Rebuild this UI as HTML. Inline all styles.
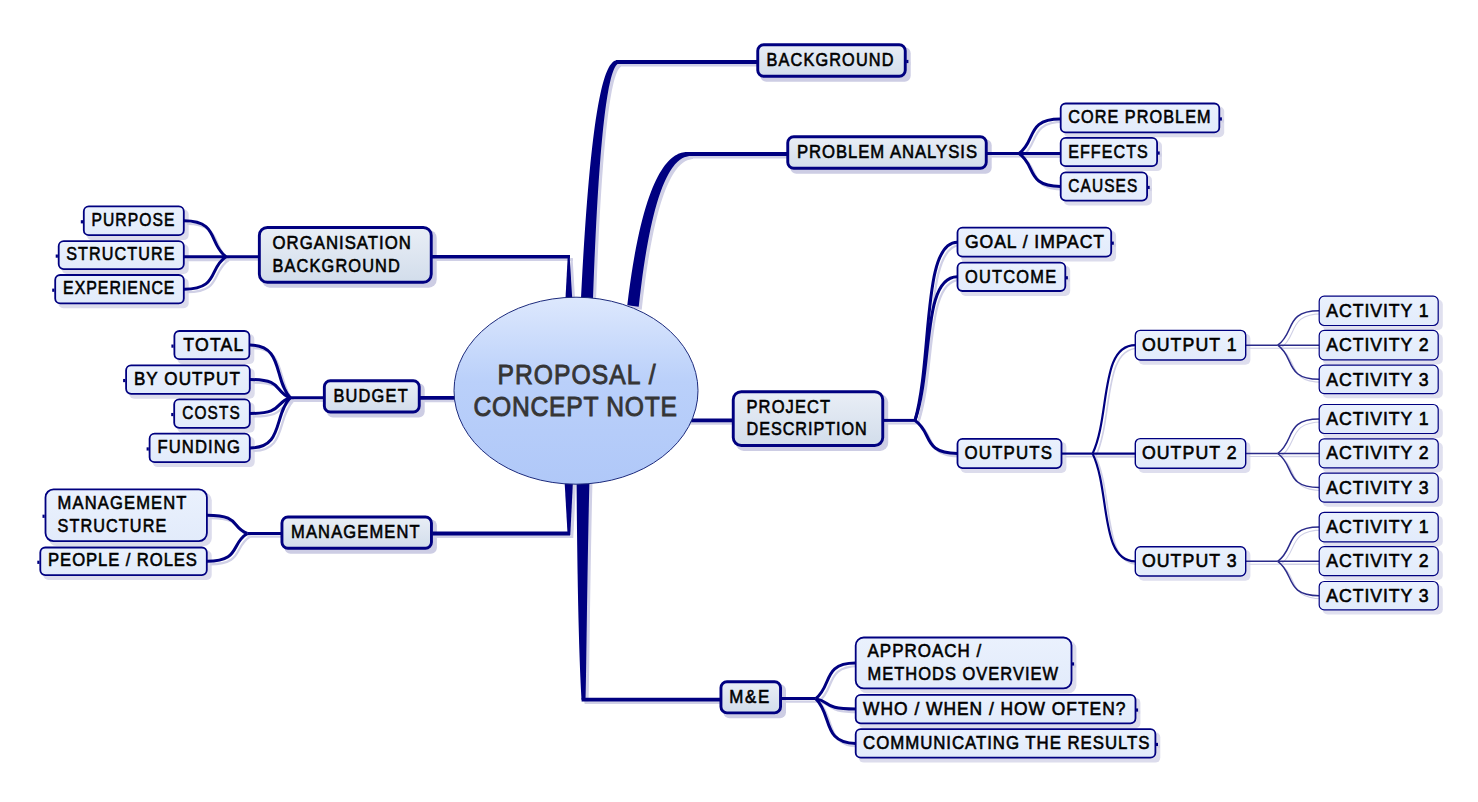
<!DOCTYPE html>
<html><head><meta charset="utf-8"><style>
html,body{margin:0;padding:0;background:#fff;width:1478px;height:802px;overflow:hidden;}
svg{display:block;font-family:"Liberation Sans", sans-serif;}
</style></head><body>
<svg width="1478" height="802" viewBox="0 0 1478 802">
<defs>
<linearGradient id="g1" x1="0" y1="0" x2="0" y2="1"><stop offset="0" stop-color="#e9eef6"/><stop offset="1" stop-color="#d2ddeb"/></linearGradient>
<linearGradient id="g2" x1="0" y1="0" x2="0" y2="1"><stop offset="0" stop-color="#eaf1fd"/><stop offset="1" stop-color="#e2ebfb"/></linearGradient>
<linearGradient id="ge" x1="0" y1="0" x2="0" y2="1"><stop offset="0" stop-color="#dde8fd"/><stop offset="0.45" stop-color="#bad0fa"/><stop offset="1" stop-color="#b0c8f8"/></linearGradient>
</defs>
<rect width="1478" height="802" fill="#ffffff"/>
<rect x="760.30" y="47.30" width="150.40" height="34.40" rx="6" fill="#cdcde4"/>
<rect x="790.30" y="139.30" width="201.40" height="34.40" rx="6" fill="#cdcde4"/>
<rect x="261.90" y="230.00" width="174.80" height="57.70" rx="8" fill="#cdcde4"/>
<rect x="326.90" y="383.30" width="97.80" height="34.20" rx="6" fill="#cdcde4"/>
<rect x="284.50" y="519.60" width="152.40" height="34.10" rx="6" fill="#cdcde4"/>
<rect x="735.80" y="394.30" width="152.40" height="56.60" rx="8" fill="#cdcde4"/>
<rect x="723.50" y="684.30" width="62.50" height="34.00" rx="6" fill="#cdcde4"/>
<rect x="86.90" y="209.50" width="101.80" height="30.60" rx="5" fill="#dcdcec"/>
<rect x="61.80" y="244.20" width="126.90" height="29.80" rx="5" fill="#dcdcec"/>
<rect x="58.30" y="278.10" width="130.40" height="30.20" rx="5" fill="#dcdcec"/>
<rect x="177.50" y="334.10" width="76.80" height="30.00" rx="5" fill="#dcdcec"/>
<rect x="129.20" y="368.40" width="125.50" height="30.30" rx="5" fill="#dcdcec"/>
<rect x="177.30" y="402.40" width="77.40" height="30.30" rx="5" fill="#dcdcec"/>
<rect x="152.70" y="436.80" width="102.00" height="30.30" rx="5" fill="#dcdcec"/>
<rect x="48.60" y="492.50" width="163.20" height="53.50" rx="8" fill="#dcdcec"/>
<rect x="43.40" y="550.60" width="168.30" height="29.40" rx="5" fill="#dcdcec"/>
<rect x="1063.80" y="106.60" width="160.40" height="30.70" rx="5" fill="#dcdcec"/>
<rect x="1063.80" y="141.00" width="98.20" height="30.10" rx="5" fill="#dcdcec"/>
<rect x="1063.80" y="175.40" width="88.20" height="30.10" rx="5" fill="#dcdcec"/>
<rect x="960.60" y="230.70" width="155.50" height="30.90" rx="5" fill="#dcdcec"/>
<rect x="960.60" y="265.70" width="109.60" height="30.20" rx="5" fill="#dcdcec"/>
<rect x="960.60" y="441.90" width="105.80" height="31.10" rx="5" fill="#dcdcec"/>
<rect x="858.80" y="640.60" width="217.60" height="52.70" rx="8" fill="#dcdcec"/>
<rect x="858.80" y="697.90" width="281.60" height="30.30" rx="5" fill="#dcdcec"/>
<rect x="858.80" y="732.30" width="301.50" height="30.30" rx="5" fill="#dcdcec"/>
<rect x="1138.60" y="333.70" width="111.80" height="31.00" rx="5" fill="#dedeee"/>
<rect x="1138.60" y="441.90" width="111.80" height="31.10" rx="5" fill="#dedeee"/>
<rect x="1138.60" y="550.00" width="111.80" height="30.70" rx="5" fill="#dedeee"/>
<rect x="1322.60" y="299.55" width="120.20" height="30.55" rx="5" fill="#e0e0ef"/>
<rect x="1322.60" y="333.80" width="120.20" height="30.60" rx="5" fill="#e0e0ef"/>
<rect x="1322.60" y="368.50" width="120.20" height="29.70" rx="5" fill="#e0e0ef"/>
<rect x="1322.60" y="407.90" width="120.20" height="30.20" rx="5" fill="#e0e0ef"/>
<rect x="1322.60" y="442.20" width="120.20" height="30.20" rx="5" fill="#e0e0ef"/>
<rect x="1322.60" y="476.50" width="120.20" height="30.20" rx="5" fill="#e0e0ef"/>
<rect x="1322.60" y="515.70" width="120.20" height="30.80" rx="5" fill="#e0e0ef"/>
<rect x="1322.60" y="550.00" width="120.20" height="30.20" rx="5" fill="#e0e0ef"/>
<rect x="1322.60" y="584.90" width="120.20" height="29.60" rx="5" fill="#e0e0ef"/>
<path d="M595.99,301.26 L596.50,287.43 L597.02,274.12 L597.55,261.31 L598.10,249.01 L598.66,237.20 L599.23,225.87 L599.81,215.01 L600.41,204.62 L601.01,194.69 L601.63,185.20 L602.26,176.15 L602.90,167.54 L603.54,159.34 L604.20,151.56 L604.86,144.19 L605.53,137.21 L606.21,130.62 L606.89,124.41 L607.58,118.57 L608.28,113.09 L608.98,107.97 L609.69,103.19 L610.40,98.75 L611.11,94.65 L611.82,90.86 L612.53,87.38 L613.25,84.22 L613.96,81.35 L614.67,78.76 L615.38,76.47 L616.08,74.45 L616.76,72.69 L617.43,71.20 L618.08,69.96 L618.69,68.97 L619.26,68.21 L619.77,67.66 L620.21,67.29 L620.61,67.05 L621.00,66.90 L621.00,63.10 L619.74,63.14 L618.47,63.45 L617.25,64.04 L616.09,64.85 L614.98,65.89 L613.92,67.14 L612.89,68.61 L611.88,70.30 L610.88,72.23 L609.90,74.41 L608.93,76.84 L607.97,79.54 L607.01,82.52 L606.06,85.78 L605.11,89.34 L604.17,93.21 L603.24,97.39 L602.31,101.89 L601.39,106.73 L600.47,111.91 L599.56,117.44 L598.65,123.33 L597.76,129.58 L596.87,136.22 L595.99,143.23 L595.11,150.65 L594.25,158.47 L593.39,166.69 L592.55,175.34 L591.71,184.42 L590.89,193.94 L590.07,203.91 L589.27,214.33 L588.48,225.21 L587.70,236.57 L586.93,248.40 L586.18,260.73 L585.44,273.56 L584.72,286.89 L584.01,300.74Z" fill="#d0d0e6"/>
<line x1="619.00" y1="65.00" x2="760.00" y2="65.00" stroke="#d0d0e6" stroke-width="2.85"/>
<path d="M641.71,309.65 L642.92,299.01 L644.16,288.88 L645.42,279.25 L646.72,270.11 L648.05,261.45 L649.41,253.26 L650.79,245.51 L652.19,238.20 L653.61,231.32 L655.06,224.85 L656.51,218.79 L657.98,213.11 L659.45,207.81 L660.93,202.87 L662.42,198.29 L663.90,194.04 L665.38,190.12 L666.85,186.51 L668.32,183.21 L669.77,180.19 L671.21,177.44 L672.62,174.96 L674.02,172.72 L675.38,170.72 L676.72,168.94 L678.03,167.36 L679.31,165.97 L680.55,164.76 L681.76,163.70 L682.94,162.79 L684.08,162.02 L685.19,161.35 L686.26,160.80 L687.31,160.33 L688.33,159.95 L689.33,159.64 L690.29,159.39 L691.23,159.19 L692.13,159.03 L693.00,158.90 L693.00,155.10 L692.01,155.00 L690.93,154.94 L689.78,154.93 L688.54,154.99 L687.23,155.14 L685.85,155.38 L684.41,155.74 L682.91,156.23 L681.36,156.86 L679.77,157.64 L678.14,158.59 L676.47,159.72 L674.79,161.03 L673.08,162.54 L671.36,164.26 L669.62,166.19 L667.88,168.35 L666.12,170.75 L664.37,173.40 L662.60,176.31 L660.84,179.49 L659.08,182.96 L657.32,186.73 L655.57,190.81 L653.83,195.20 L652.09,199.94 L650.37,205.01 L648.66,210.45 L646.97,216.26 L645.30,222.46 L643.66,229.05 L642.03,236.05 L640.44,243.48 L638.87,251.34 L637.34,259.65 L635.84,268.42 L634.38,277.66 L632.97,287.39 L631.60,297.62 L630.29,308.35Z" fill="#d0d0e6"/>
<line x1="691.00" y1="157.00" x2="790.00" y2="157.00" stroke="#d0d0e6" stroke-width="2.85"/>
<line x1="435.00" y1="259.70" x2="573.00" y2="259.70" stroke="#d0d0e6" stroke-width="2.70"/>
<path d="M570.8,258.0 L572.6,258.0 L575.3,303.0 L568.4,303.0 Z" fill="#d0d0e6"/>
<line x1="423.00" y1="400.80" x2="473.00" y2="400.80" stroke="#d0d0e6" stroke-width="2.85"/>
<line x1="683.00" y1="423.40" x2="735.50" y2="423.40" stroke="#d0d0e6" stroke-width="2.85"/>
<line x1="435.20" y1="536.50" x2="573.00" y2="536.50" stroke="#d0d0e6" stroke-width="2.85"/>
<path d="M567.5,483.0 L576.0,483.0 L573.3,538.0 L570.6,538.0 Z" fill="#d0d0e6"/>
<path d="M579.50,480.95 L579.59,490.00 L579.67,498.87 L579.75,507.54 L579.82,516.02 L579.91,524.31 L579.99,532.40 L580.08,540.31 L580.18,548.04 L580.28,555.57 L580.38,562.92 L580.48,570.09 L580.60,577.07 L580.71,583.87 L580.83,590.49 L580.95,596.93 L581.07,603.19 L581.20,609.28 L581.33,615.18 L581.46,620.91 L581.60,626.47 L581.74,631.85 L581.88,637.07 L582.02,642.10 L582.16,646.97 L582.31,651.67 L582.45,656.21 L582.60,660.57 L582.75,664.77 L582.90,668.81 L583.04,672.68 L583.19,676.39 L583.34,679.94 L583.49,683.32 L583.64,686.55 L583.78,689.62 L583.93,692.53 L584.08,695.29 L584.22,697.89 L584.36,700.34 L584.50,702.63 L588.50,702.57 L588.56,700.27 L588.62,697.82 L588.68,695.22 L588.74,692.46 L588.80,689.55 L588.86,686.48 L588.92,683.25 L588.98,679.86 L589.04,676.32 L589.10,672.61 L589.16,668.74 L589.22,664.70 L589.28,660.51 L589.34,656.14 L589.41,651.61 L589.48,646.92 L589.55,642.05 L589.62,637.01 L589.70,631.81 L589.78,626.43 L589.86,620.88 L589.94,615.15 L590.03,609.25 L590.13,603.17 L590.23,596.92 L590.33,590.48 L590.44,583.87 L590.55,577.07 L590.67,570.10 L590.79,562.94 L590.92,555.60 L591.06,548.07 L591.21,540.35 L591.36,532.45 L591.52,524.36 L591.69,516.08 L591.87,507.62 L592.06,498.95 L592.27,490.10 L592.50,481.05Z" fill="#d0d0e6"/>
<line x1="584.60" y1="702.60" x2="723.20" y2="702.60" stroke="#d0d0e6" stroke-width="2.85"/>
<line x1="261.60" y1="259.70" x2="229.00" y2="259.70" stroke="#d0d0e6" stroke-width="2.25"/>
<path d="M187.00,223.80 C222.28,223.80 211.36,247.13 229.00,259.70" fill="none" stroke="#d0d0e6" stroke-width="2.25"/>
<line x1="187.00" y1="259.70" x2="229.00" y2="259.70" stroke="#d0d0e6" stroke-width="3.00"/>
<path d="M187.00,292.20 C222.28,292.20 211.36,271.07 229.00,259.70" fill="none" stroke="#d0d0e6" stroke-width="2.25"/>
<line x1="326.60" y1="400.80" x2="293.30" y2="400.80" stroke="#d0d0e6" stroke-width="2.25"/>
<path d="M253.00,348.10 C286.85,348.10 276.37,382.36 293.30,400.80" fill="none" stroke="#d0d0e6" stroke-width="2.25"/>
<path d="M253.00,382.50 C286.85,382.50 276.37,394.39 293.30,400.80" fill="none" stroke="#d0d0e6" stroke-width="2.25"/>
<path d="M253.00,416.50 C286.85,416.50 276.37,406.30 293.30,400.80" fill="none" stroke="#d0d0e6" stroke-width="2.25"/>
<path d="M253.00,451.00 C286.85,451.00 276.37,418.37 293.30,400.80" fill="none" stroke="#d0d0e6" stroke-width="2.25"/>
<line x1="284.20" y1="536.50" x2="250.40" y2="536.50" stroke="#d0d0e6" stroke-width="2.25"/>
<path d="M210.00,518.20 C243.94,518.20 233.43,530.10 250.40,536.50" fill="none" stroke="#d0d0e6" stroke-width="2.25"/>
<path d="M210.00,564.30 C243.94,564.30 233.43,546.23 250.40,536.50" fill="none" stroke="#d0d0e6" stroke-width="2.25"/>
<line x1="990.00" y1="156.50" x2="1022.00" y2="156.50" stroke="#d0d0e6" stroke-width="2.25"/>
<path d="M1063.50,121.90 C1028.64,121.90 1039.43,144.39 1022.00,156.50" fill="none" stroke="#d0d0e6" stroke-width="2.25"/>
<line x1="1063.50" y1="156.50" x2="1022.00" y2="156.50" stroke="#d0d0e6" stroke-width="3.00"/>
<path d="M1063.50,189.40 C1028.64,189.40 1039.43,168.01 1022.00,156.50" fill="none" stroke="#d0d0e6" stroke-width="2.25"/>
<line x1="886.50" y1="423.40" x2="918.00" y2="423.40" stroke="#d0d0e6" stroke-width="2.25"/>
<path d="M960.30,245.20 C924.77,245.20 935.77,361.03 918.00,423.40" fill="none" stroke="#d0d0e6" stroke-width="2.25"/>
<path d="M960.30,279.80 C924.77,279.80 935.77,373.14 918.00,423.40" fill="none" stroke="#d0d0e6" stroke-width="2.25"/>
<path d="M960.30,456.40 C924.77,456.40 935.77,434.95 918.00,423.40" fill="none" stroke="#d0d0e6" stroke-width="2.25"/>
<line x1="784.30" y1="701.60" x2="818.70" y2="701.60" stroke="#d0d0e6" stroke-width="2.25"/>
<path d="M858.50,666.00 C825.07,666.00 835.42,689.14 818.70,701.60" fill="none" stroke="#d0d0e6" stroke-width="2.25"/>
<path d="M858.50,712.00 C825.07,712.00 835.42,705.24 818.70,701.60" fill="none" stroke="#d0d0e6" stroke-width="2.25"/>
<path d="M858.50,746.40 C825.07,746.40 835.42,717.28 818.70,701.60" fill="none" stroke="#d0d0e6" stroke-width="2.25"/>
<line x1="1064.70" y1="456.60" x2="1095.60" y2="456.60" stroke="#d0d0e6" stroke-width="1.65"/>
<path d="M1138.30,348.20 C1102.43,348.20 1113.53,418.66 1095.60,456.60" fill="none" stroke="#d0d0e6" stroke-width="1.65"/>
<line x1="1138.30" y1="456.60" x2="1095.60" y2="456.60" stroke="#d0d0e6" stroke-width="2.20"/>
<path d="M1138.30,564.30 C1102.43,564.30 1113.53,494.30 1095.60,456.60" fill="none" stroke="#d0d0e6" stroke-width="1.65"/>
<line x1="1248.70" y1="348.20" x2="1280.70" y2="348.20" stroke="#d0d0e6" stroke-width="1.12"/>
<path d="M1322.30,313.82 C1287.36,313.82 1298.17,336.17 1280.70,348.20" fill="none" stroke="#d0d0e6" stroke-width="1.12"/>
<line x1="1322.30" y1="348.20" x2="1280.70" y2="348.20" stroke="#d0d0e6" stroke-width="1.50"/>
<path d="M1322.30,382.35 C1287.36,382.35 1298.17,360.15 1280.70,348.20" fill="none" stroke="#d0d0e6" stroke-width="1.12"/>
<line x1="1248.70" y1="456.50" x2="1280.70" y2="456.50" stroke="#d0d0e6" stroke-width="1.12"/>
<path d="M1322.30,422.00 C1287.36,422.00 1298.17,444.43 1280.70,456.50" fill="none" stroke="#d0d0e6" stroke-width="1.12"/>
<line x1="1322.30" y1="456.50" x2="1280.70" y2="456.50" stroke="#d0d0e6" stroke-width="1.50"/>
<path d="M1322.30,490.60 C1287.36,490.60 1298.17,468.44 1280.70,456.50" fill="none" stroke="#d0d0e6" stroke-width="1.12"/>
<line x1="1248.70" y1="564.30" x2="1280.70" y2="564.30" stroke="#d0d0e6" stroke-width="1.12"/>
<path d="M1322.30,530.10 C1287.36,530.10 1298.17,552.33 1280.70,564.30" fill="none" stroke="#d0d0e6" stroke-width="1.12"/>
<line x1="1322.30" y1="564.30" x2="1280.70" y2="564.30" stroke="#d0d0e6" stroke-width="1.50"/>
<path d="M1322.30,598.70 C1287.36,598.70 1298.17,576.34 1280.70,564.30" fill="none" stroke="#d0d0e6" stroke-width="1.12"/>
<path d="M592.99,298.26 L593.50,284.43 L594.02,271.12 L594.55,258.31 L595.10,246.01 L595.66,234.20 L596.23,222.87 L596.81,212.01 L597.41,201.62 L598.01,191.69 L598.63,182.20 L599.26,173.15 L599.90,164.54 L600.54,156.34 L601.20,148.56 L601.86,141.19 L602.53,134.21 L603.21,127.62 L603.89,121.41 L604.58,115.57 L605.28,110.09 L605.98,104.97 L606.69,100.19 L607.40,95.75 L608.11,91.65 L608.82,87.86 L609.53,84.38 L610.25,81.22 L610.96,78.35 L611.67,75.76 L612.38,73.47 L613.08,71.45 L613.76,69.69 L614.43,68.20 L615.08,66.96 L615.69,65.97 L616.26,65.21 L616.77,64.66 L617.21,64.29 L617.61,64.05 L618.00,63.90 L618.00,60.10 L616.74,60.14 L615.47,60.45 L614.25,61.04 L613.09,61.85 L611.98,62.89 L610.92,64.14 L609.89,65.61 L608.88,67.30 L607.88,69.23 L606.90,71.41 L605.93,73.84 L604.97,76.54 L604.01,79.52 L603.06,82.78 L602.11,86.34 L601.17,90.21 L600.24,94.39 L599.31,98.89 L598.39,103.73 L597.47,108.91 L596.56,114.44 L595.65,120.33 L594.76,126.58 L593.87,133.22 L592.99,140.23 L592.11,147.65 L591.25,155.47 L590.39,163.69 L589.55,172.34 L588.71,181.42 L587.89,190.94 L587.07,200.91 L586.27,211.33 L585.48,222.21 L584.70,233.57 L583.93,245.40 L583.18,257.73 L582.44,270.56 L581.72,283.89 L581.01,297.74Z" fill="#000080"/>
<line x1="616.00" y1="62.00" x2="757.00" y2="62.00" stroke="#000080" stroke-width="3.80"/>
<path d="M638.71,306.65 L639.92,296.01 L641.16,285.88 L642.42,276.25 L643.72,267.11 L645.05,258.45 L646.41,250.26 L647.79,242.51 L649.19,235.20 L650.61,228.32 L652.06,221.85 L653.51,215.79 L654.98,210.11 L656.45,204.81 L657.93,199.87 L659.42,195.29 L660.90,191.04 L662.38,187.12 L663.85,183.51 L665.32,180.21 L666.77,177.19 L668.21,174.44 L669.62,171.96 L671.02,169.72 L672.38,167.72 L673.72,165.94 L675.03,164.36 L676.31,162.97 L677.55,161.76 L678.76,160.70 L679.94,159.79 L681.08,159.02 L682.19,158.35 L683.26,157.80 L684.31,157.33 L685.33,156.95 L686.33,156.64 L687.29,156.39 L688.23,156.19 L689.13,156.03 L690.00,155.90 L690.00,152.10 L689.01,152.00 L687.93,151.94 L686.78,151.93 L685.54,151.99 L684.23,152.14 L682.85,152.38 L681.41,152.74 L679.91,153.23 L678.36,153.86 L676.77,154.64 L675.14,155.59 L673.47,156.72 L671.79,158.03 L670.08,159.54 L668.36,161.26 L666.62,163.19 L664.88,165.35 L663.12,167.75 L661.37,170.40 L659.60,173.31 L657.84,176.49 L656.08,179.96 L654.32,183.73 L652.57,187.81 L650.83,192.20 L649.09,196.94 L647.37,202.01 L645.66,207.45 L643.97,213.26 L642.30,219.46 L640.66,226.05 L639.03,233.05 L637.44,240.48 L635.87,248.34 L634.34,256.65 L632.84,265.42 L631.38,274.66 L629.97,284.39 L628.60,294.62 L627.29,305.35Z" fill="#000080"/>
<line x1="688.00" y1="154.00" x2="787.00" y2="154.00" stroke="#000080" stroke-width="3.80"/>
<line x1="432.00" y1="256.70" x2="570.00" y2="256.70" stroke="#000080" stroke-width="3.60"/>
<path d="M567.8,255.0 L569.6,255.0 L572.3,300.0 L565.4,300.0 Z" fill="#000080"/>
<line x1="420.00" y1="397.80" x2="470.00" y2="397.80" stroke="#000080" stroke-width="3.80"/>
<line x1="680.00" y1="420.40" x2="732.50" y2="420.40" stroke="#000080" stroke-width="3.80"/>
<line x1="432.20" y1="533.50" x2="570.00" y2="533.50" stroke="#000080" stroke-width="3.80"/>
<path d="M564.5,480.0 L573.0,480.0 L570.3,535.0 L567.6,535.0 Z" fill="#000080"/>
<path d="M576.50,477.95 L576.59,487.00 L576.67,495.87 L576.75,504.54 L576.82,513.02 L576.91,521.31 L576.99,529.40 L577.08,537.31 L577.18,545.04 L577.28,552.57 L577.38,559.92 L577.48,567.09 L577.60,574.07 L577.71,580.87 L577.83,587.49 L577.95,593.93 L578.07,600.19 L578.20,606.28 L578.33,612.18 L578.46,617.91 L578.60,623.47 L578.74,628.85 L578.88,634.07 L579.02,639.10 L579.16,643.97 L579.31,648.67 L579.45,653.21 L579.60,657.57 L579.75,661.77 L579.90,665.81 L580.04,669.68 L580.19,673.39 L580.34,676.94 L580.49,680.32 L580.64,683.55 L580.78,686.62 L580.93,689.53 L581.08,692.29 L581.22,694.89 L581.36,697.34 L581.50,699.63 L585.50,699.57 L585.56,697.27 L585.62,694.82 L585.68,692.22 L585.74,689.46 L585.80,686.55 L585.86,683.48 L585.92,680.25 L585.98,676.86 L586.04,673.32 L586.10,669.61 L586.16,665.74 L586.22,661.70 L586.28,657.51 L586.34,653.14 L586.41,648.61 L586.48,643.92 L586.55,639.05 L586.62,634.01 L586.70,628.81 L586.78,623.43 L586.86,617.88 L586.94,612.15 L587.03,606.25 L587.13,600.17 L587.23,593.92 L587.33,587.48 L587.44,580.87 L587.55,574.07 L587.67,567.10 L587.79,559.94 L587.92,552.60 L588.06,545.07 L588.21,537.35 L588.36,529.45 L588.52,521.36 L588.69,513.08 L588.87,504.62 L589.06,495.95 L589.27,487.10 L589.50,478.05Z" fill="#000080"/>
<line x1="581.60" y1="699.60" x2="720.20" y2="699.60" stroke="#000080" stroke-width="3.80"/>
<line x1="258.60" y1="256.70" x2="226.00" y2="256.70" stroke="#000080" stroke-width="3.00"/>
<path d="M184.00,220.80 C219.28,220.80 208.36,244.13 226.00,256.70" fill="none" stroke="#000080" stroke-width="3.00"/>
<line x1="184.00" y1="256.70" x2="226.00" y2="256.70" stroke="#000080" stroke-width="3.00"/>
<path d="M184.00,289.20 C219.28,289.20 208.36,268.07 226.00,256.70" fill="none" stroke="#000080" stroke-width="3.00"/>
<line x1="323.60" y1="397.80" x2="290.30" y2="397.80" stroke="#000080" stroke-width="3.00"/>
<path d="M250.00,345.10 C283.85,345.10 273.37,379.36 290.30,397.80" fill="none" stroke="#000080" stroke-width="3.00"/>
<path d="M250.00,379.50 C283.85,379.50 273.37,391.39 290.30,397.80" fill="none" stroke="#000080" stroke-width="3.00"/>
<path d="M250.00,413.50 C283.85,413.50 273.37,403.30 290.30,397.80" fill="none" stroke="#000080" stroke-width="3.00"/>
<path d="M250.00,448.00 C283.85,448.00 273.37,415.37 290.30,397.80" fill="none" stroke="#000080" stroke-width="3.00"/>
<line x1="281.20" y1="533.50" x2="247.40" y2="533.50" stroke="#000080" stroke-width="3.00"/>
<path d="M207.00,515.20 C240.94,515.20 230.43,527.10 247.40,533.50" fill="none" stroke="#000080" stroke-width="3.00"/>
<path d="M207.00,561.30 C240.94,561.30 230.43,543.23 247.40,533.50" fill="none" stroke="#000080" stroke-width="3.00"/>
<line x1="987.00" y1="153.50" x2="1019.00" y2="153.50" stroke="#000080" stroke-width="3.00"/>
<path d="M1060.50,118.90 C1025.64,118.90 1036.43,141.39 1019.00,153.50" fill="none" stroke="#000080" stroke-width="3.00"/>
<line x1="1060.50" y1="153.50" x2="1019.00" y2="153.50" stroke="#000080" stroke-width="3.00"/>
<path d="M1060.50,186.40 C1025.64,186.40 1036.43,165.01 1019.00,153.50" fill="none" stroke="#000080" stroke-width="3.00"/>
<line x1="883.50" y1="420.40" x2="915.00" y2="420.40" stroke="#000080" stroke-width="3.00"/>
<path d="M957.30,242.20 C921.77,242.20 932.77,358.03 915.00,420.40" fill="none" stroke="#000080" stroke-width="3.00"/>
<path d="M957.30,276.80 C921.77,276.80 932.77,370.14 915.00,420.40" fill="none" stroke="#000080" stroke-width="3.00"/>
<path d="M957.30,453.40 C921.77,453.40 932.77,431.95 915.00,420.40" fill="none" stroke="#000080" stroke-width="3.00"/>
<line x1="781.30" y1="698.60" x2="815.70" y2="698.60" stroke="#000080" stroke-width="3.00"/>
<path d="M855.50,663.00 C822.07,663.00 832.42,686.14 815.70,698.60" fill="none" stroke="#000080" stroke-width="3.00"/>
<path d="M855.50,709.00 C822.07,709.00 832.42,702.24 815.70,698.60" fill="none" stroke="#000080" stroke-width="3.00"/>
<path d="M855.50,743.40 C822.07,743.40 832.42,714.28 815.70,698.60" fill="none" stroke="#000080" stroke-width="3.00"/>
<line x1="1061.70" y1="453.60" x2="1092.60" y2="453.60" stroke="#000080" stroke-width="2.20"/>
<path d="M1135.30,345.20 C1099.43,345.20 1110.53,415.66 1092.60,453.60" fill="none" stroke="#000080" stroke-width="2.20"/>
<line x1="1135.30" y1="453.60" x2="1092.60" y2="453.60" stroke="#000080" stroke-width="2.20"/>
<path d="M1135.30,561.30 C1099.43,561.30 1110.53,491.30 1092.60,453.60" fill="none" stroke="#000080" stroke-width="2.20"/>
<line x1="1245.70" y1="345.20" x2="1277.70" y2="345.20" stroke="#2a2a8a" stroke-width="1.50"/>
<path d="M1319.30,310.82 C1284.36,310.82 1295.17,333.17 1277.70,345.20" fill="none" stroke="#2a2a8a" stroke-width="1.50"/>
<line x1="1319.30" y1="345.20" x2="1277.70" y2="345.20" stroke="#2a2a8a" stroke-width="1.50"/>
<path d="M1319.30,379.35 C1284.36,379.35 1295.17,357.15 1277.70,345.20" fill="none" stroke="#2a2a8a" stroke-width="1.50"/>
<line x1="1245.70" y1="453.50" x2="1277.70" y2="453.50" stroke="#2a2a8a" stroke-width="1.50"/>
<path d="M1319.30,419.00 C1284.36,419.00 1295.17,441.43 1277.70,453.50" fill="none" stroke="#2a2a8a" stroke-width="1.50"/>
<line x1="1319.30" y1="453.50" x2="1277.70" y2="453.50" stroke="#2a2a8a" stroke-width="1.50"/>
<path d="M1319.30,487.60 C1284.36,487.60 1295.17,465.44 1277.70,453.50" fill="none" stroke="#2a2a8a" stroke-width="1.50"/>
<line x1="1245.70" y1="561.30" x2="1277.70" y2="561.30" stroke="#2a2a8a" stroke-width="1.50"/>
<path d="M1319.30,527.10 C1284.36,527.10 1295.17,549.33 1277.70,561.30" fill="none" stroke="#2a2a8a" stroke-width="1.50"/>
<line x1="1319.30" y1="561.30" x2="1277.70" y2="561.30" stroke="#2a2a8a" stroke-width="1.50"/>
<path d="M1319.30,595.70 C1284.36,595.70 1295.17,573.34 1277.70,561.30" fill="none" stroke="#2a2a8a" stroke-width="1.50"/>
<ellipse cx="576" cy="390.7" rx="122" ry="93.5" fill="url(#ge)" stroke="#1c2a7c" stroke-width="1"/>
<text transform="translate(497.5,384) scale(0.880,1)" textLength="179.55" lengthAdjust="spacing" font-family="Liberation Sans" font-size="28" fill="#353535" stroke="#353535" stroke-width="0.9">PROPOSAL /</text>
<text transform="translate(473.5,416) scale(0.880,1)" textLength="231.25" lengthAdjust="spacing" font-family="Liberation Sans" font-size="28" fill="#353535" stroke="#353535" stroke-width="0.9">CONCEPT NOTE</text>
<rect x="908.20" y="61.90" width="2.2" height="3.2" fill="#d0d0e6"/>
<rect x="906.20" y="59.90" width="2.2" height="3.2" fill="#000080"/>
<rect x="757.75" y="44.75" width="147.50" height="31.50" rx="6" fill="url(#g1)" stroke="#000080" stroke-width="2.90"/>
<text transform="translate(766.50,65.80) scale(0.862,1)" textLength="147.25" lengthAdjust="spacing" font-family="Liberation Sans" font-size="18.9" fill="#000000" stroke="#000" stroke-width="0.6">BACKGROUND</text>
<rect x="787.75" y="136.75" width="198.50" height="31.50" rx="6" fill="url(#g1)" stroke="#000080" stroke-width="2.90"/>
<text transform="translate(796.90,157.80) scale(0.883,1)" textLength="203.99" lengthAdjust="spacing" font-family="Liberation Sans" font-size="18.9" fill="#000000" stroke="#000" stroke-width="0.6">PROBLEM ANALYSIS</text>
<rect x="259.35" y="227.45" width="171.90" height="54.80" rx="8" fill="url(#g1)" stroke="#000080" stroke-width="2.90"/>
<text transform="translate(272.50,248.80) scale(0.887,1)" textLength="155.99" lengthAdjust="spacing" font-family="Liberation Sans" font-size="18.9" fill="#000000" stroke="#000" stroke-width="0.6">ORGANISATION</text>
<text transform="translate(272.50,271.60) scale(0.865,1)" textLength="147.25" lengthAdjust="spacing" font-family="Liberation Sans" font-size="18.9" fill="#000000" stroke="#000" stroke-width="0.6">BACKGROUND</text>
<rect x="324.35" y="380.75" width="94.90" height="31.30" rx="6" fill="url(#g1)" stroke="#000080" stroke-width="2.90"/>
<text transform="translate(333.40,401.80) scale(0.868,1)" textLength="85.61" lengthAdjust="spacing" font-family="Liberation Sans" font-size="18.9" fill="#000000" stroke="#000" stroke-width="0.6">BUDGET</text>
<rect x="281.95" y="517.05" width="149.50" height="31.20" rx="6" fill="url(#g1)" stroke="#000080" stroke-width="2.90"/>
<text transform="translate(291.00,538.10) scale(0.874,1)" textLength="147.24" lengthAdjust="spacing" font-family="Liberation Sans" font-size="18.9" fill="#000000" stroke="#000" stroke-width="0.6">MANAGEMENT</text>
<rect x="733.25" y="391.75" width="149.50" height="53.70" rx="8" fill="url(#g1)" stroke="#000080" stroke-width="2.90"/>
<text transform="translate(746.50,413.30) scale(0.873,1)" textLength="95.88" lengthAdjust="spacing" font-family="Liberation Sans" font-size="18.9" fill="#000000" stroke="#000" stroke-width="0.6">PROJECT</text>
<text transform="translate(746.50,435.30) scale(0.857,1)" textLength="140.40" lengthAdjust="spacing" font-family="Liberation Sans" font-size="18.9" fill="#000000" stroke="#000" stroke-width="0.6">DESCRIPTION</text>
<rect x="720.95" y="681.75" width="59.60" height="31.10" rx="6" fill="url(#g1)" stroke="#000080" stroke-width="2.90"/>
<text transform="translate(729.30,702.80) scale(0.896,1)" textLength="44.52" lengthAdjust="spacing" font-family="Liberation Sans" font-size="18.9" fill="#000000" stroke="#000" stroke-width="0.6">M&amp;E</text>
<rect x="82.80" y="222.20" width="2.2" height="3.2" fill="#d0d0e6"/>
<rect x="80.80" y="220.20" width="2.2" height="3.2" fill="#000080"/>
<rect x="83.80" y="206.40" width="100.00" height="28.80" rx="5" fill="url(#g2)" stroke="#000080" stroke-width="1.80"/>
<text transform="translate(91.40,225.80) scale(0.827,1)" textLength="100.46" lengthAdjust="spacing" font-family="Liberation Sans" font-size="18.9" fill="#000000" stroke="#000" stroke-width="0.6">PURPOSE</text>
<rect x="57.70" y="256.50" width="2.2" height="3.2" fill="#d0d0e6"/>
<rect x="55.70" y="254.50" width="2.2" height="3.2" fill="#000080"/>
<rect x="58.70" y="241.10" width="125.10" height="28.00" rx="5" fill="url(#g2)" stroke="#000080" stroke-width="1.80"/>
<text transform="translate(66.20,260.30) scale(0.855,1)" textLength="126.68" lengthAdjust="spacing" font-family="Liberation Sans" font-size="18.9" fill="#000000" stroke="#000" stroke-width="0.6">STRUCTURE</text>
<rect x="54.20" y="290.60" width="2.2" height="3.2" fill="#d0d0e6"/>
<rect x="52.20" y="288.60" width="2.2" height="3.2" fill="#000080"/>
<rect x="55.20" y="275.00" width="128.60" height="28.40" rx="5" fill="url(#g2)" stroke="#000080" stroke-width="1.80"/>
<text transform="translate(63.10,294.30) scale(0.841,1)" textLength="132.43" lengthAdjust="spacing" font-family="Liberation Sans" font-size="18.9" fill="#000000" stroke="#000" stroke-width="0.6">EXPERIENCE</text>
<rect x="173.40" y="346.50" width="2.2" height="3.2" fill="#d0d0e6"/>
<rect x="171.40" y="344.50" width="2.2" height="3.2" fill="#000080"/>
<rect x="174.40" y="331.00" width="75.00" height="28.20" rx="5" fill="url(#g2)" stroke="#000080" stroke-width="1.80"/>
<text transform="translate(183.30,350.50) scale(0.935,1)" textLength="64.30" lengthAdjust="spacing" font-family="Liberation Sans" font-size="18.9" fill="#000000" stroke="#000" stroke-width="0.6">TOTAL</text>
<rect x="125.10" y="380.95" width="2.2" height="3.2" fill="#d0d0e6"/>
<rect x="123.10" y="378.95" width="2.2" height="3.2" fill="#000080"/>
<rect x="126.10" y="365.30" width="123.70" height="28.50" rx="5" fill="url(#g2)" stroke="#000080" stroke-width="1.80"/>
<text transform="translate(133.90,384.80) scale(0.904,1)" textLength="117.19" lengthAdjust="spacing" font-family="Liberation Sans" font-size="18.9" fill="#000000" stroke="#000" stroke-width="0.6">BY OUTPUT</text>
<rect x="173.20" y="414.95" width="2.2" height="3.2" fill="#d0d0e6"/>
<rect x="171.20" y="412.95" width="2.2" height="3.2" fill="#000080"/>
<rect x="174.20" y="399.30" width="75.60" height="28.50" rx="5" fill="url(#g2)" stroke="#000080" stroke-width="1.80"/>
<text transform="translate(182.20,418.80) scale(0.814,1)" textLength="70.77" lengthAdjust="spacing" font-family="Liberation Sans" font-size="18.9" fill="#000000" stroke="#000" stroke-width="0.6">COSTS</text>
<rect x="148.60" y="449.35" width="2.2" height="3.2" fill="#d0d0e6"/>
<rect x="146.60" y="447.35" width="2.2" height="3.2" fill="#000080"/>
<rect x="149.60" y="433.70" width="100.20" height="28.50" rx="5" fill="url(#g2)" stroke="#000080" stroke-width="1.80"/>
<text transform="translate(157.40,453.30) scale(0.881,1)" textLength="93.58" lengthAdjust="spacing" font-family="Liberation Sans" font-size="18.9" fill="#000000" stroke="#000" stroke-width="0.6">FUNDING</text>
<rect x="44.50" y="516.65" width="2.2" height="3.2" fill="#d0d0e6"/>
<rect x="42.50" y="514.65" width="2.2" height="3.2" fill="#000080"/>
<rect x="45.50" y="489.40" width="161.40" height="51.70" rx="8" fill="url(#g2)" stroke="#000080" stroke-width="1.80"/>
<text transform="translate(57.50,508.80) scale(0.876,1)" textLength="147.24" lengthAdjust="spacing" font-family="Liberation Sans" font-size="18.9" fill="#000000" stroke="#000" stroke-width="0.6">MANAGEMENT</text>
<text transform="translate(57.50,532.20) scale(0.859,1)" textLength="126.68" lengthAdjust="spacing" font-family="Liberation Sans" font-size="18.9" fill="#000000" stroke="#000" stroke-width="0.6">STRUCTURE</text>
<rect x="39.30" y="562.70" width="2.2" height="3.2" fill="#d0d0e6"/>
<rect x="37.30" y="560.70" width="2.2" height="3.2" fill="#000080"/>
<rect x="40.30" y="547.50" width="166.50" height="27.60" rx="5" fill="url(#g2)" stroke="#000080" stroke-width="1.80"/>
<text transform="translate(48.10,566.10) scale(0.881,1)" textLength="168.98" lengthAdjust="spacing" font-family="Liberation Sans" font-size="18.9" fill="#000000" stroke="#000" stroke-width="0.6">PEOPLE / ROLES</text>
<rect x="1221.70" y="119.35" width="2.2" height="3.2" fill="#d0d0e6"/>
<rect x="1219.70" y="117.35" width="2.2" height="3.2" fill="#000080"/>
<rect x="1060.70" y="103.50" width="158.60" height="28.90" rx="5" fill="url(#g2)" stroke="#000080" stroke-width="1.80"/>
<text transform="translate(1068.20,123.20) scale(0.860,1)" textLength="165.52" lengthAdjust="spacing" font-family="Liberation Sans" font-size="18.9" fill="#000000" stroke="#000" stroke-width="0.6">CORE PROBLEM</text>
<rect x="1159.50" y="153.45" width="2.2" height="3.2" fill="#d0d0e6"/>
<rect x="1157.50" y="151.45" width="2.2" height="3.2" fill="#000080"/>
<rect x="1060.70" y="137.90" width="96.40" height="28.30" rx="5" fill="url(#g2)" stroke="#000080" stroke-width="1.80"/>
<text transform="translate(1068.20,157.60) scale(0.851,1)" textLength="93.59" lengthAdjust="spacing" font-family="Liberation Sans" font-size="18.9" fill="#000000" stroke="#000" stroke-width="0.6">EFFECTS</text>
<rect x="1149.50" y="187.85" width="2.2" height="3.2" fill="#d0d0e6"/>
<rect x="1147.50" y="185.85" width="2.2" height="3.2" fill="#000080"/>
<rect x="1060.70" y="172.30" width="86.40" height="28.30" rx="5" fill="url(#g2)" stroke="#000080" stroke-width="1.80"/>
<text transform="translate(1068.20,192.00) scale(0.818,1)" textLength="84.49" lengthAdjust="spacing" font-family="Liberation Sans" font-size="18.9" fill="#000000" stroke="#000" stroke-width="0.6">CAUSES</text>
<rect x="1113.60" y="243.55" width="2.2" height="3.2" fill="#d0d0e6"/>
<rect x="1111.60" y="241.55" width="2.2" height="3.2" fill="#000080"/>
<rect x="957.50" y="227.60" width="153.70" height="29.10" rx="5" fill="url(#g2)" stroke="#000080" stroke-width="1.80"/>
<text transform="translate(965.00,247.80) scale(0.930,1)" textLength="149.53" lengthAdjust="spacing" font-family="Liberation Sans" font-size="18.9" fill="#000000" stroke="#000" stroke-width="0.6">GOAL / IMPACT</text>
<rect x="1067.70" y="278.20" width="2.2" height="3.2" fill="#d0d0e6"/>
<rect x="1065.70" y="276.20" width="2.2" height="3.2" fill="#000080"/>
<rect x="957.50" y="262.60" width="107.80" height="28.40" rx="5" fill="url(#g2)" stroke="#000080" stroke-width="1.80"/>
<text transform="translate(965.00,282.60) scale(0.868,1)" textLength="104.99" lengthAdjust="spacing" font-family="Liberation Sans" font-size="18.9" fill="#000000" stroke="#000" stroke-width="0.6">OUTCOME</text>
<rect x="957.50" y="438.80" width="104.00" height="29.30" rx="5" fill="url(#g2)" stroke="#000080" stroke-width="1.80"/>
<text transform="translate(964.40,459.00) scale(0.892,1)" textLength="98.15" lengthAdjust="spacing" font-family="Liberation Sans" font-size="18.9" fill="#000000" stroke="#000" stroke-width="0.6">OUTPUTS</text>
<rect x="1073.90" y="664.35" width="2.2" height="3.2" fill="#d0d0e6"/>
<rect x="1071.90" y="662.35" width="2.2" height="3.2" fill="#000080"/>
<rect x="855.70" y="637.50" width="215.80" height="50.90" rx="8" fill="url(#g2)" stroke="#000080" stroke-width="1.80"/>
<text transform="translate(867.50,657.00) scale(0.898,1)" textLength="126.71" lengthAdjust="spacing" font-family="Liberation Sans" font-size="18.9" fill="#000000" stroke="#000" stroke-width="0.6">APPROACH /</text>
<text transform="translate(867.50,679.90) scale(0.871,1)" textLength="218.78" lengthAdjust="spacing" font-family="Liberation Sans" font-size="18.9" fill="#000000" stroke="#000" stroke-width="0.6">METHODS OVERVIEW</text>
<rect x="1137.90" y="710.45" width="2.2" height="3.2" fill="#d0d0e6"/>
<rect x="1135.90" y="708.45" width="2.2" height="3.2" fill="#000080"/>
<rect x="855.70" y="694.80" width="279.80" height="28.50" rx="5" fill="url(#g2)" stroke="#000080" stroke-width="1.80"/>
<text transform="translate(863.10,714.60) scale(0.923,1)" textLength="284.17" lengthAdjust="spacing" font-family="Liberation Sans" font-size="18.9" fill="#000000" stroke="#000" stroke-width="0.6">WHO / WHEN / HOW OFTEN?</text>
<rect x="1157.80" y="744.85" width="2.2" height="3.2" fill="#d0d0e6"/>
<rect x="1155.80" y="742.85" width="2.2" height="3.2" fill="#000080"/>
<rect x="855.70" y="729.20" width="299.70" height="28.50" rx="5" fill="url(#g2)" stroke="#000080" stroke-width="1.80"/>
<text transform="translate(863.10,749.00) scale(0.890,1)" textLength="321.86" lengthAdjust="spacing" font-family="Liberation Sans" font-size="18.9" fill="#000000" stroke="#000" stroke-width="0.6">COMMUNICATING THE RESULTS</text>
<rect x="1135.30" y="330.40" width="110.40" height="29.60" rx="5" fill="url(#g2)" stroke="#000080" stroke-width="1.40"/>
<text transform="translate(1141.90,350.80) scale(0.937,1)" textLength="101.21" lengthAdjust="spacing" font-family="Liberation Sans" font-size="18.9" fill="#000000" stroke="#000" stroke-width="0.6">OUTPUT 1</text>
<rect x="1135.30" y="438.60" width="110.40" height="29.70" rx="5" fill="url(#g2)" stroke="#000080" stroke-width="1.40"/>
<text transform="translate(1141.90,459.00) scale(0.937,1)" textLength="101.21" lengthAdjust="spacing" font-family="Liberation Sans" font-size="18.9" fill="#000000" stroke="#000" stroke-width="0.6">OUTPUT 2</text>
<rect x="1135.30" y="546.70" width="110.40" height="29.30" rx="5" fill="url(#g2)" stroke="#000080" stroke-width="1.40"/>
<text transform="translate(1141.90,567.00) scale(0.937,1)" textLength="101.21" lengthAdjust="spacing" font-family="Liberation Sans" font-size="18.9" fill="#000000" stroke="#000" stroke-width="0.6">OUTPUT 3</text>
<rect x="1319.20" y="296.15" width="119.00" height="29.35" rx="5" fill="url(#g2)" stroke="#000080" stroke-width="1.20"/>
<text transform="translate(1326.30,316.55) scale(0.936,1)" textLength="109.21" lengthAdjust="spacing" font-family="Liberation Sans" font-size="18.9" fill="#000000" stroke="#000" stroke-width="0.6">ACTIVITY 1</text>
<rect x="1319.20" y="330.40" width="119.00" height="29.40" rx="5" fill="url(#g2)" stroke="#000080" stroke-width="1.20"/>
<text transform="translate(1326.30,350.80) scale(0.936,1)" textLength="109.21" lengthAdjust="spacing" font-family="Liberation Sans" font-size="18.9" fill="#000000" stroke="#000" stroke-width="0.6">ACTIVITY 2</text>
<rect x="1319.20" y="365.10" width="119.00" height="28.50" rx="5" fill="url(#g2)" stroke="#000080" stroke-width="1.20"/>
<text transform="translate(1326.30,385.50) scale(0.936,1)" textLength="109.21" lengthAdjust="spacing" font-family="Liberation Sans" font-size="18.9" fill="#000000" stroke="#000" stroke-width="0.6">ACTIVITY 3</text>
<rect x="1319.20" y="404.50" width="119.00" height="29.00" rx="5" fill="url(#g2)" stroke="#000080" stroke-width="1.20"/>
<text transform="translate(1326.30,424.90) scale(0.936,1)" textLength="109.21" lengthAdjust="spacing" font-family="Liberation Sans" font-size="18.9" fill="#000000" stroke="#000" stroke-width="0.6">ACTIVITY 1</text>
<rect x="1319.20" y="438.80" width="119.00" height="29.00" rx="5" fill="url(#g2)" stroke="#000080" stroke-width="1.20"/>
<text transform="translate(1326.30,459.20) scale(0.936,1)" textLength="109.21" lengthAdjust="spacing" font-family="Liberation Sans" font-size="18.9" fill="#000000" stroke="#000" stroke-width="0.6">ACTIVITY 2</text>
<rect x="1319.20" y="473.10" width="119.00" height="29.00" rx="5" fill="url(#g2)" stroke="#000080" stroke-width="1.20"/>
<text transform="translate(1326.30,493.50) scale(0.936,1)" textLength="109.21" lengthAdjust="spacing" font-family="Liberation Sans" font-size="18.9" fill="#000000" stroke="#000" stroke-width="0.6">ACTIVITY 3</text>
<rect x="1319.20" y="512.30" width="119.00" height="29.60" rx="5" fill="url(#g2)" stroke="#000080" stroke-width="1.20"/>
<text transform="translate(1326.30,532.70) scale(0.936,1)" textLength="109.21" lengthAdjust="spacing" font-family="Liberation Sans" font-size="18.9" fill="#000000" stroke="#000" stroke-width="0.6">ACTIVITY 1</text>
<rect x="1319.20" y="546.60" width="119.00" height="29.00" rx="5" fill="url(#g2)" stroke="#000080" stroke-width="1.20"/>
<text transform="translate(1326.30,567.00) scale(0.936,1)" textLength="109.21" lengthAdjust="spacing" font-family="Liberation Sans" font-size="18.9" fill="#000000" stroke="#000" stroke-width="0.6">ACTIVITY 2</text>
<rect x="1319.20" y="581.50" width="119.00" height="28.40" rx="5" fill="url(#g2)" stroke="#000080" stroke-width="1.20"/>
<text transform="translate(1326.30,601.90) scale(0.936,1)" textLength="109.21" lengthAdjust="spacing" font-family="Liberation Sans" font-size="18.9" fill="#000000" stroke="#000" stroke-width="0.6">ACTIVITY 3</text>
</svg>
</body></html>
